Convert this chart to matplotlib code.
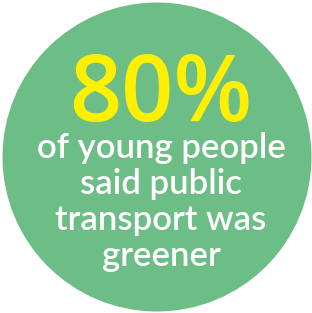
import matplotlib
matplotlib.use("Agg")
import matplotlib.pyplot as plt
from matplotlib.patches import Circle

headline = "80%"
lines = ["of young people", "said public", "transport was", "greener"]

W, H = 312, 313
fig = plt.figure(figsize=(W / 100, H / 100), dpi=100)
ax = fig.add_axes([0, 0, 1, 1])
ax.set_xlim(0, W)
ax.set_ylim(H, 0)
ax.axis("off")

ax.add_patch(Circle((157, 157), 154.5, color="#6dbd86", lw=0))

ax.text(161, 121, headline, ha="center", va="baseline", color="#fff000",
        fontsize=66, fontweight="semibold", family="Open Sans")

baselines = [158, 194, 230, 266]
for t, y in zip(lines, baselines):
    ax.text(161, y, t, ha="center", va="baseline", color="white",
            fontsize=25, family="Lato", fontweight="semibold")

fig.savefig("out.png", dpi=100)
